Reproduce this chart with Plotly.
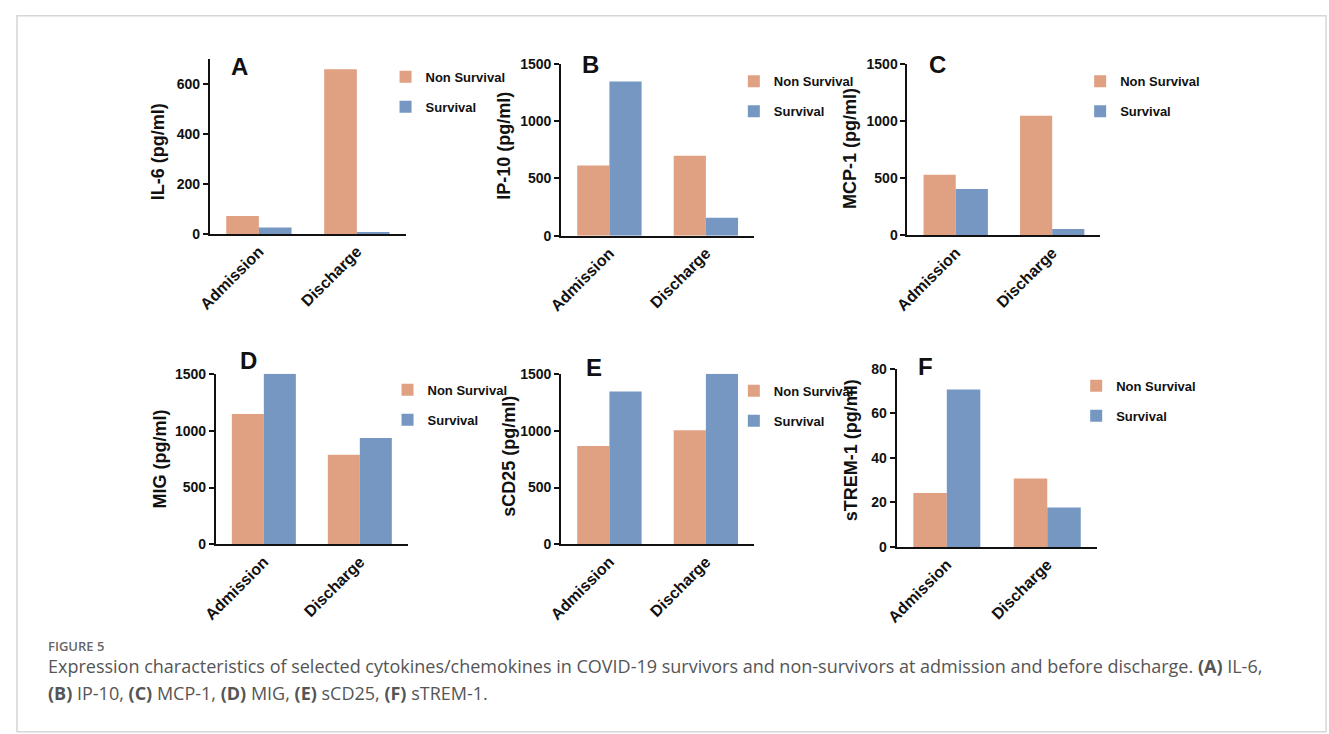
import plotly.graph_objects as go

W, H = 1329, 734

categories = ["Admission", "Discharge"]
series_names = ["Non Survival", "Survival"]

il6_non = [72, 660]
il6_surv = [26, 8]
ip10_non = [613, 698]
ip10_surv = [1348, 157]
mcp1_non = [531, 1048]
mcp1_surv = [405, 54]
mig_non = [1147, 788]
mig_surv = [1500, 935]
scd25_non = [866, 1003]
scd25_surv = [1345, 1500]
strem1_non = [24.3, 30.8]
strem1_surv = [70.8, 17.7]

panel_letters = ["A", "B", "C", "D", "E", "F"]
y_titles = ["IL-6 (pg/ml)", "IP-10 (pg/ml)", "MCP-1 (pg/ml)",
            "MIG (pg/ml)", "sCD25 (pg/ml)", "sTREM-1 (pg/ml)"]
y_ranges = [[0, 700], [0, 1500], [0, 1500], [0, 1500], [0, 1500], [0, 80]]
y_ticks = [[0, 200, 400, 600], [0, 500, 1000, 1500], [0, 500, 1000, 1500],
           [0, 500, 1000, 1500], [0, 500, 1000, 1500], [0, 20, 40, 60, 80]]

data_non = [il6_non, ip10_non, mcp1_non, mig_non, scd25_non, strem1_non]
data_surv = [il6_surv, ip10_surv, mcp1_surv, mig_surv, scd25_surv, strem1_surv]

COL_NON = "#E0A183"
COL_SURV = "#7597C2"
FONT = "Liberation Sans, Arial, sans-serif"

# layout geometry (pixels): x0, x1, ytop, ybottom
boxes = [
    (198, 396, 52.5, 231),
    (553, 748, 57.3, 232.7),
    (903, 1098, 57.3, 232.3),
    (204, 398, 374, 548.3),
    (553, 748, 374, 548.3),
    (892, 1095, 369, 551),
]
letter_pos = [(228, 60), (583, 58), (933, 58), (237, 360), (586, 368), (921, 366)]
ytitle_pos = [(145, 147), (495, 141), (845, 144), (148, 461), (500, 458), (846, 452)]
legend_pos = [(395.5, 68), (747.5, 72.7), (1097.5, 72.7),
              (397.5, 388), (747.5, 389), (1093.5, 384)]

def px(x):
    return x / W

def py(y):
    return 1 - y / H

fig = go.Figure()
layout = dict(
    width=W, height=H,
    margin=dict(l=0, r=0, t=0, b=0),
    paper_bgcolor="white", plot_bgcolor="white",
    barmode="group", bargap=0.333, bargroupgap=0,
    font=dict(family=FONT, color="#111"),
    showlegend=True,
)
annotations = []
shapes = []

for i in range(6):
    xa = "x" if i == 0 else f"x{i+1}"
    ya = "y" if i == 0 else f"y{i+1}"
    lg = "legend" if i == 0 else f"legend{i+1}"
    for name, vals, col in [(series_names[0], data_non[i], COL_NON),
                            (series_names[1], data_surv[i], COL_SURV)]:
        fig.add_trace(go.Bar(
            x=categories, y=vals, name=name, marker=dict(color=col, line=dict(width=0)),
            xaxis=xa, yaxis=ya, legend=lg, legendgroup=f"{i}-{name}",
        ))
    x0, x1, yt, yb = boxes[i]
    key_x = "xaxis" if i == 0 else f"xaxis{i+1}"
    key_y = "yaxis" if i == 0 else f"yaxis{i+1}"
    layout[key_x] = dict(
        domain=[px(x0), px(x1)], anchor=ya, range=[-0.5, 1.5],
        showline=True, linecolor="#111", linewidth=2, ticks="",
        tickangle=-45, tickfont=dict(family=FONT, size=16, weight="bold", color="#111"),
        showgrid=False, zeroline=False,
    )
    layout[key_y] = dict(
        domain=[py(yb), py(yt)], anchor=xa, range=y_ranges[i],
        tickvals=y_ticks[i], showline=True, linecolor="#111", linewidth=2,
        ticks="outside", ticklen=5, tickwidth=2, tickcolor="#111",
        tickfont=dict(family=FONT, size=14, weight="bold", color="#111"),
        showgrid=False, zeroline=False,
    )
    lx, ly = legend_pos[i]
    layout[lg] = dict(
        x=px(lx - 20), xanchor="left", y=py(ly - 13), yanchor="top",
        bgcolor="rgba(0,0,0,0)", borderwidth=0, tracegroupgap=10,
        font=dict(family=FONT, size=13, weight="bold", color="#111"),
        traceorder="grouped",
    )
    ax_, ay_ = letter_pos[i]
    annotations.append(dict(
        text=panel_letters[i], x=px(ax_), y=py(ay_), xref="paper", yref="paper",
        showarrow=False, xanchor="center", yanchor="middle",
        font=dict(family=FONT, size=24, weight="bold", color="#111"),
    ))
    tx, ty = ytitle_pos[i]
    annotations.append(dict(
        text=y_titles[i], x=px(tx), y=py(ty), xref="paper", yref="paper",
        showarrow=False, xanchor="center", yanchor="middle", textangle=-90,
        font=dict(family=FONT, size=18, weight="bold", color="#111"),
    ))

# caption
CAP_FONT = "Open Sans, sans-serif"
annotations.append(dict(
    text="FIGURE 5", x=px(32), y=py(652), xref="paper", yref="paper",
    showarrow=False, xanchor="left", yanchor="middle",
    font=dict(family=CAP_FONT, size=13, weight=600, color="#666"),
))
caption_lines = [
    ("Expression characteristics of selected cytokines/chemokines in COVID-19 survivors and "
     "non-survivors at admission and before discharge. <b>(A)</b> IL-6,"),
    "<b>(B)</b> IP-10, <b>(C)</b> MCP-1, <b>(D)</b> MIG, <b>(E)</b> sCD25, <b>(F)</b> sTREM-1.",
]
for line, yy in zip(caption_lines, [673, 700]):
    annotations.append(dict(
        text=line, x=px(32), y=py(yy), xref="paper", yref="paper", align="left",
        showarrow=False, xanchor="left", yanchor="middle",
        font=dict(family=CAP_FONT, size=18, color="#555"),
    ))
shapes.append(dict(type="rect", xref="paper", yref="paper",
                   x0=px(3), x1=px(1326), y0=py(740), y1=py(8),
                   line=dict(color="#d6d6d6", width=1.5)))

layout["annotations"] = annotations
layout["shapes"] = shapes
fig.update_layout(**layout)
fig.write_html("out.html", config={"displayModeBar": False},
               post_script="document.body.style.margin='0';document.body.style.overflow='hidden';")
